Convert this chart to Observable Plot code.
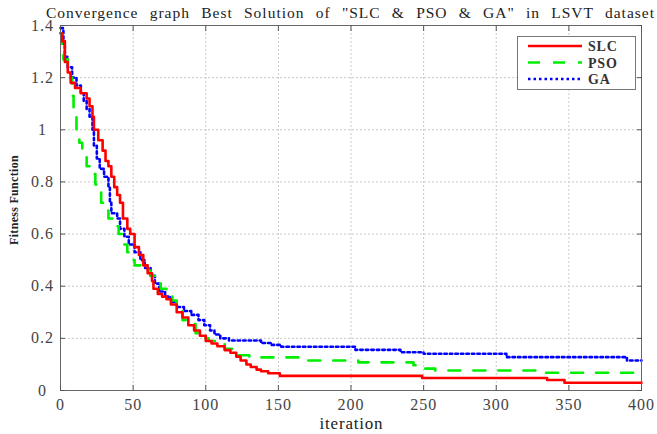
<!DOCTYPE html>
<html><head><meta charset="utf-8">
<script src="https://cdn.jsdelivr.net/npm/d3@7"></script>
<script src="https://cdn.jsdelivr.net/npm/@observablehq/plot@0.6"></script>
<style>
html,body{margin:0;background:#fff;overflow:hidden}
#wrap{position:relative;width:657px;height:434px;overflow:hidden;font-family:"Liberation Serif","Times New Roman",Times,serif;color:#222}
#chart svg text{font-family:"Liberation Serif","Times New Roman",Times,serif !important;letter-spacing:1px}
#title{position:absolute;left:46px;top:3px;width:609px;font-size:15.5px;letter-spacing:1px;text-align:justify;text-align-last:justify;line-height:19px;white-space:normal}
#xlabel{position:absolute;left:0;width:703px;top:414px;text-align:center;font-size:17px;letter-spacing:0.8px;line-height:20px}
#ylabel{position:absolute;left:14px;top:200px;transform:translate(-50%,-50%) rotate(-90deg);font-size:12px;font-weight:bold;white-space:nowrap;letter-spacing:0.3px}
#legend{position:absolute;left:517px;top:36px;width:117px;height:52px;border:1px solid #777;background:#fff}
#legend text{font-family:"Liberation Serif","Times New Roman",Times,serif;letter-spacing:0.8px}
</style></head>
<body><div id="wrap">
<div id="chart"></div>
<div id="title">Convergence graph Best Solution of "SLC &amp; PSO &amp; GA" in LSVT dataset</div>
<div id="xlabel">iteration</div>
<div id="ylabel">Fitness Function</div>
<div id="legend"></div>
</div>
<script>
const seriesNames = ["SLC", "PSO", "GA"];
const seriesColors = ["#ff0000", "#00ee00", "#0000ff"];
const xTicks = [0, 50, 100, 150, 200, 250, 300, 350, 400];
const yTicks = [0, 0.2, 0.4, 0.6, 0.8, 1, 1.2, 1.4];

const slcIter = [0,1,3,5,7,10,14,18,20,22,23,26,29,31,33,35,37,39,41,43,46,48,51,54,57,60,63,64,67,70,73,76,80,84,88,92,96,100,104,108,113,117,121,124,128,131,135,138,143,151,249,335,347,400];
const slcVal  = [1.37,1.34,1.26,1.22,1.18,1.16,1.14,1.12,1.09,1.05,1.0,0.96,0.92,0.88,0.86,0.82,0.78,0.75,0.72,0.66,0.62,0.6,0.55,0.52,0.48,0.45,0.42,0.39,0.37,0.36,0.35,0.33,0.30,0.28,0.25,0.23,0.21,0.19,0.18,0.17,0.155,0.145,0.13,0.115,0.10,0.09,0.08,0.074,0.066,0.056,0.048,0.04,0.03,0.03];

const psoIter = [0,1,2,5,7,8,9,11,13,15,18,21,24,26,28,30,33,37,40,43,46,49,51,58,62,65,69,73,77,80,84,90,93,98,102,108,113,118,122,130,165,205,243,250,258,330,400];
const psoVal  = [1.37,1.30,1.27,1.24,1.2,1.13,1.05,1.0,0.95,0.9,0.86,0.83,0.79,0.76,0.72,0.69,0.66,0.63,0.6,0.56,0.53,0.5,0.48,0.46,0.44,0.41,0.39,0.365,0.345,0.33,0.27,0.255,0.22,0.2,0.19,0.18,0.16,0.145,0.135,0.127,0.115,0.108,0.097,0.084,0.077,0.068,0.068];

const gaIter = [0,2,3,5,8,11,14,16,18,20,22,23,25,27,30,33,34,35,39,41,44,47,51,55,58,62,65,68,72,76,80,85,90,95,99,103,106,110,116,138,145,152,203,234,250,307,390,400];
const gaVal  = [1.39,1.33,1.28,1.24,1.2,1.17,1.14,1.11,1.08,1.05,1.0,0.94,0.89,0.85,0.82,0.78,0.72,0.68,0.66,0.62,0.59,0.56,0.53,0.5,0.47,0.44,0.41,0.38,0.36,0.34,0.32,0.305,0.29,0.27,0.25,0.23,0.215,0.2,0.192,0.182,0.175,0.168,0.156,0.147,0.141,0.128,0.115,0.115];

const toRows = (it, v, s) => it.map((d, i) => ({iter: d, value: v[i], series: s}));
const slc = toRows(slcIter, slcVal, "SLC");
const pso = toRows(psoIter, psoVal, "PSO");
const ga  = toRows(gaIter, gaVal, "GA");

const gridStyle = {stroke: "#c8c8c8", strokeOpacity: 1, strokeDasharray: "2,2"};
const fmt = d => String(+d.toFixed(1));

const chart = Plot.plot({
  width: 657, height: 434,
  marginLeft: 60, marginRight: 16, marginTop: 25, marginBottom: 44,
  style: {fontFamily: "'Liberation Serif', 'Times New Roman', serif", fontSize: "16px", color: "#444", background: "transparent"},
  x: {domain: [0, 400]},
  y: {domain: [0, 1.4]},
  marks: [
    Plot.gridX({ticks: xTicks, ...gridStyle}),
    Plot.gridY({ticks: yTicks, ...gridStyle}),
    Plot.line(ga,  {x: "iter", y: "value", curve: "step-after", stroke: seriesColors[2], strokeWidth: 2.6, strokeDasharray: "2.5,3"}),
    Plot.line(pso, {x: "iter", y: "value", curve: "step-after", stroke: seriesColors[1], strokeWidth: 2.6, strokeDasharray: "12,13"}),
    Plot.line(slc, {x: "iter", y: "value", curve: "step-after", stroke: seriesColors[0], strokeWidth: 2.6}),
    Plot.frame({stroke: "#666"}),
    Plot.axisX({ticks: xTicks, tickSize: 0, tickPadding: 8, tickFormat: fmt, label: null, fontSize: 16}),
    Plot.axisY({ticks: yTicks, tickSize: 0, tickPadding: 18, tickFormat: fmt, label: null, textAnchor: "middle", fontSize: 16}),
    Plot.axisX({ticks: xTicks, anchor: "bottom", tickSize: -5, tickFormat: () => "", label: null, stroke: "#555"}),
    Plot.axisX({ticks: xTicks, anchor: "top", tickSize: -5, tickFormat: () => "", label: null, stroke: "#555"}),
    Plot.axisY({ticks: yTicks, anchor: "left", tickSize: -5, tickFormat: () => "", label: null, stroke: "#555"}),
    Plot.axisY({ticks: yTicks, anchor: "right", tickSize: -5, tickFormat: () => "", label: null, stroke: "#555"})
  ]
});
document.getElementById("chart").appendChild(chart);

// legend
const leg = d3.select("#legend").append("svg").attr("width", 117).attr("height", 52);
const dashes = [null, "12,13", "2.5,3"];
seriesNames.forEach((name, i) => {
  const y = 9 + i * 16.5;
  leg.append("line").attr("x1", 10).attr("x2", 64).attr("y1", y).attr("y2", y)
    .attr("stroke", seriesColors[i]).attr("stroke-width", 2.6)
    .attr("stroke-dasharray", dashes[i]);
  leg.append("text").attr("x", 70).attr("y", y + 5).text(name)
    .attr("font-size", 14).attr("font-weight", "bold").attr("fill", "#333");
});
</script>
</body></html>
